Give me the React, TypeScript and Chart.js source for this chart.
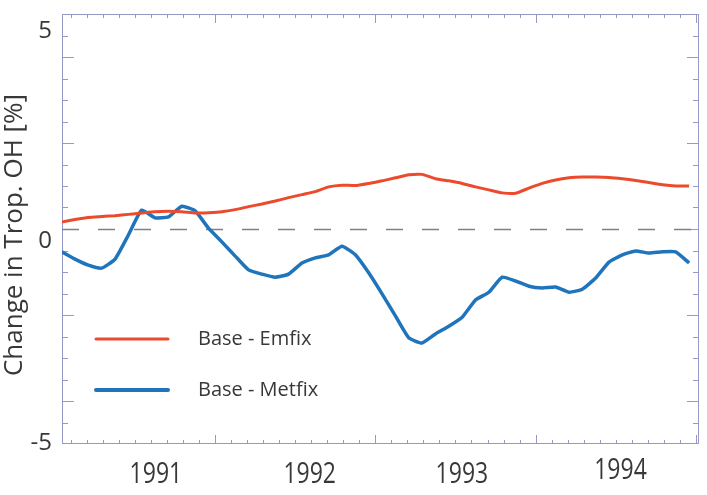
import React, { useEffect, useRef } from 'react';
import { Chart, registerables } from 'chart.js';

Chart.register(...registerables);

// Monthly values, Jan 1991 .. Dec 1994
const emfix = [
  0.16, 0.22, 0.27, 0.29, 0.31, 0.34, 0.37, 0.40, 0.41, 0.40, 0.37, 0.38,
  0.40, 0.45, 0.52, 0.58, 0.65, 0.73, 0.80, 0.87, 0.98, 1.02, 1.01, 1.06,
  1.12, 1.19, 1.26, 1.27, 1.17, 1.12, 1.06, 0.98, 0.91, 0.84, 0.83, 0.95,
  1.06, 1.14, 1.19, 1.21, 1.21, 1.20, 1.17, 1.13, 1.08, 1.03, 1.00, 1.00,
];
const metfix = [
  -0.53, -0.70, -0.84, -0.91, -0.70, -0.14, 0.44, 0.26, 0.28, 0.53, 0.42, 0.02,
  -0.30, -0.63, -0.95, -1.05, -1.12, -1.05, -0.79, -0.67, -0.60, -0.40, -0.60, -1.02,
  -1.51, -2.02, -2.53, -2.65, -2.44, -2.26, -2.05, -1.65, -1.47, -1.12, -1.21, -1.33,
  -1.37, -1.35, -1.47, -1.40, -1.14, -0.77, -0.60, -0.51, -0.56, -0.53, -0.53, -0.79,
];
const seriesNames = ['Base - Emfix', 'Base - Metfix'];
const seriesColors = ['#ec4a2c', '#1f74bc'];

const xDates = emfix.map((_, i) => 1991 + (i + 0.5) / 12);

const yTickLabels = ['5', '0', '-5'];
const yTickLabelAt = [4.6, -0.28, -4.98];
const yearLabels = ['1991', '1992', '1993', '1994'];
const yearLabelAt = [1991.63, 1992.59, 1993.54, 1994.53];
const yearLabelDy = [0, 0, 0, -4];

const yTitle = 'Change in Trop. OH [%]';

const FRAME = 'rgb(150,153,200)';
const TEXT = '#383838';
const FONT = '"Open Sans", "Noto Sans", sans-serif';

const framePlugin = {
  id: 'framePlugin',
  beforeDatasetsDraw(chart: any) {
    const { ctx, chartArea, scales } = chart;
    const { left, right, top, bottom } = chartArea;
    const x = scales.x;
    const y = scales.y;
    ctx.save();
    ctx.strokeStyle = FRAME;
    ctx.lineWidth = 1;
    ctx.strokeRect(left + 0.5, top + 0.5, right - left - 1, bottom - top - 1);
    const seg = (x1: number, y1: number, x2: number, y2: number) => {
      ctx.beginPath();
      ctx.moveTo(x1, y1);
      ctx.lineTo(x2, y2);
      ctx.stroke();
    };
    for (let k = -9; k <= 9; k++) {
      const v = k * 0.5;
      const py = Math.round(y.getPixelForValue(v)) + 0.5;
      const long = k % 4 === 0;
      const len = long ? 12 : 6;
      seg(left, py, left + len, py);
      seg(right - len, py, right, py);
    }
    for (let k = 1; k <= 40; k++) {
      const v = (19910 + k) / 10;
      const px = Math.round(x.getPixelForValue(v)) + 0.5;
      const long = k % 10 === 0;
      const len = long ? 9 : 4;
      seg(px, bottom, px, bottom - len);
      seg(px, top, px, top + len);
    }
    // zero dashed line
    const y0 = Math.round(y.getPixelForValue(0)) + 0.5;
    ctx.strokeStyle = 'rgb(128,128,136)';
    ctx.lineWidth = 1.5;
    ctx.setLineDash([17, 19]);
    seg(left, y0, right, y0);
    ctx.restore();
  },
  afterDraw(chart: any) {
    const { ctx, chartArea, scales } = chart;
    const x = scales.x;
    const y = scales.y;
    ctx.save();
    ctx.fillStyle = TEXT;
    // y tick labels
    ctx.font = `24px ${FONT}`;
    ctx.textAlign = 'right';
    ctx.textBaseline = 'middle';
    yTickLabels.forEach((t, i) => {
      ctx.fillText(t, 52, y.getPixelForValue(yTickLabelAt[i]));
    });
    // year labels (vertically stretched like the original)
    ctx.font = `23px ${FONT}`;
    ctx.textAlign = 'center';
    yearLabels.forEach((t, i) => {
      ctx.save();
      ctx.translate(x.getPixelForValue(yearLabelAt[i]), chartArea.bottom + 31 + yearLabelDy[i]);
      ctx.scale(1, 1.25);
      ctx.fillText(t, 0, 0);
      ctx.restore();
    });
    // y title
    ctx.save();
    ctx.translate(15, 235);
    ctx.rotate(-Math.PI / 2);
    ctx.font = `26px ${FONT}`;
    ctx.textAlign = 'center';
    ctx.textBaseline = 'middle';
    ctx.fillText(yTitle, 0, 0);
    ctx.restore();
    // legend
    const legendY = [339, 390];
    const widths = [3, 4];
    seriesNames.forEach((name, i) => {
      ctx.strokeStyle = seriesColors[i];
      ctx.lineWidth = widths[i];
      ctx.lineCap = 'round';
      ctx.beginPath();
      ctx.moveTo(96, legendY[i]);
      ctx.lineTo(168, legendY[i]);
      ctx.stroke();
      ctx.fillStyle = TEXT;
      ctx.font = `20px ${FONT}`;
      ctx.textAlign = 'left';
      ctx.textBaseline = 'middle';
      ctx.fillText(name, 198, legendY[i]);
    });
    ctx.restore();
  },
};

export default function App() {
  const ref = useRef<HTMLCanvasElement | null>(null);
  useEffect(() => {
    if (!ref.current) return;
    const chart = new Chart(ref.current, {
      type: 'line',
      data: {
        datasets: [
          {
            label: seriesNames[0],
            data: emfix.map((v, i) => ({ x: xDates[i], y: v })),
            borderColor: seriesColors[0],
            borderWidth: 3,
            pointRadius: 0,
            tension: 0.15,
            fill: false,
          },
          {
            label: seriesNames[1],
            data: metfix.map((v, i) => ({ x: xDates[i], y: v })),
            borderColor: seriesColors[1],
            borderWidth: 3.5,
            pointRadius: 0,
            tension: 0.15,
            fill: false,
          },
        ],
      },
      options: {
        responsive: false,
        animation: false,
        layout: { padding: { left: 62, right: 8, top: 14, bottom: 51 } },
        plugins: { legend: { display: false }, tooltip: { enabled: false } },
        scales: {
          x: { type: 'linear', min: 1991.044, max: 1995.02, display: false },
          y: { type: 'linear', min: -5, max: 5, display: false },
        },
      },
      plugins: [framePlugin],
    });
    return () => chart.destroy();
  }, []);
  return (
    <div style={{ position: 'absolute', left: 0, top: 0, width: 707, height: 495, background: '#fff' }}>
      <canvas ref={ref} width={707} height={495} style={{ display: 'block' }} />
    </div>
  );
}
